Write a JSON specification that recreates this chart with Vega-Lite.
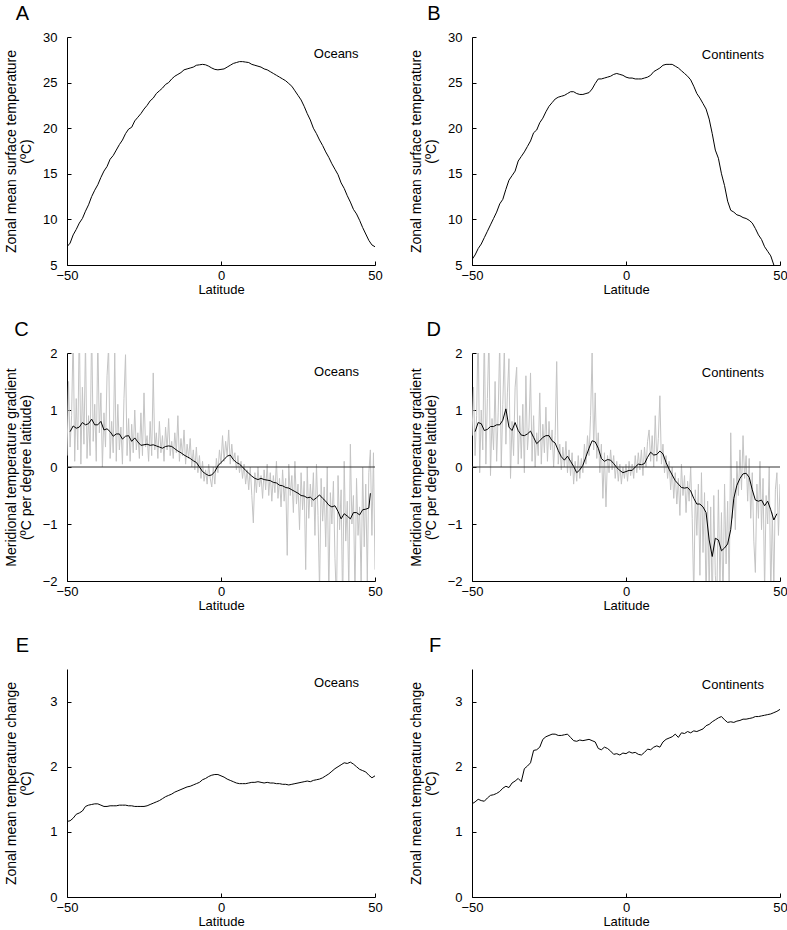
{
"$schema": "https://vega.github.io/schema/vega-lite/v6.json",
"padding": {"left": 3, "top": 4, "right": 5, "bottom": 5},
"background": "white",
"config": {
 "font": "Liberation Sans",
 "view": {"stroke": null},
 "axis": {"labelFont": "Liberation Sans", "titleFont": "Liberation Sans", "labelFontSize": 13, "titleFontSize": 13, "titleFontWeight": "normal", "domainColor": "black", "tickColor": "black", "labelColor": "black", "titleColor": "black", "grid": false, "labelFlush": false, "labelOverlap": false, "tickSize": -4},
 "axisX": {"labelPadding": 8, "titlePadding": 1},
 "axisY": {"labelPadding": 14, "titleX": -63, "titleY": 114, "titleBaseline": "top", "titleAngle": -90, "titleAlign": "center", "titleFontSize": 14, "titleLineHeight": 15},
 "text": {"font": "Liberation Sans", "fontSize": 13, "color": "black", "align": "center", "baseline": "alphabetic"}
},
"datasets": {
"A": [{"lat":-50,"v":7.0},{"lat":-49,"v":7.4},{"lat":-48,"v":8.3},{"lat":-47,"v":8.9},{"lat":-46,"v":9.6},{"lat":-45,"v":10.1},{"lat":-44,"v":10.9},{"lat":-43,"v":11.6},{"lat":-42,"v":12.5},{"lat":-41,"v":13.2},{"lat":-40,"v":13.8},{"lat":-39,"v":14.6},{"lat":-38,"v":15.3},{"lat":-37,"v":15.8},{"lat":-36,"v":16.6},{"lat":-35,"v":17.0},{"lat":-34,"v":17.6},{"lat":-33,"v":18.2},{"lat":-32,"v":18.7},{"lat":-31,"v":19.4},{"lat":-30,"v":19.9},{"lat":-29,"v":20.1},{"lat":-28,"v":20.8},{"lat":-27,"v":21.2},{"lat":-26,"v":21.6},{"lat":-25,"v":22.1},{"lat":-24,"v":22.5},{"lat":-23,"v":23.0},{"lat":-22,"v":23.3},{"lat":-21,"v":23.8},{"lat":-20,"v":24.1},{"lat":-19,"v":24.4},{"lat":-18,"v":24.8},{"lat":-17,"v":25.0},{"lat":-16,"v":25.4},{"lat":-15,"v":25.7},{"lat":-14,"v":25.9},{"lat":-13,"v":26.1},{"lat":-12,"v":26.4},{"lat":-11,"v":26.5},{"lat":-10,"v":26.6},{"lat":-9,"v":26.7},{"lat":-8,"v":26.9},{"lat":-7,"v":26.95},{"lat":-6,"v":27.0},{"lat":-5,"v":26.95},{"lat":-4,"v":26.8},{"lat":-3,"v":26.6},{"lat":-2,"v":26.45},{"lat":-1,"v":26.4},{"lat":0,"v":26.45},{"lat":1,"v":26.5},{"lat":2,"v":26.7},{"lat":3,"v":26.9},{"lat":4,"v":27.1},{"lat":5,"v":27.2},{"lat":6,"v":27.3},{"lat":7,"v":27.3},{"lat":8,"v":27.25},{"lat":9,"v":27.2},{"lat":10,"v":27.0},{"lat":11,"v":26.9},{"lat":12,"v":26.8},{"lat":13,"v":26.7},{"lat":14,"v":26.5},{"lat":15,"v":26.4},{"lat":16,"v":26.2},{"lat":17,"v":26.0},{"lat":18,"v":25.8},{"lat":19,"v":25.6},{"lat":20,"v":25.4},{"lat":21,"v":25.2},{"lat":22,"v":24.9},{"lat":23,"v":24.6},{"lat":24,"v":24.1},{"lat":25,"v":23.6},{"lat":26,"v":23.1},{"lat":27,"v":22.4},{"lat":28,"v":21.6},{"lat":29,"v":20.9},{"lat":30,"v":20.0},{"lat":31,"v":19.4},{"lat":32,"v":18.7},{"lat":33,"v":18.1},{"lat":34,"v":17.4},{"lat":35,"v":16.8},{"lat":36,"v":16.1},{"lat":37,"v":15.5},{"lat":38,"v":14.9},{"lat":39,"v":14.0},{"lat":40,"v":13.4},{"lat":41,"v":12.6},{"lat":42,"v":11.9},{"lat":43,"v":11.1},{"lat":44,"v":10.6},{"lat":45,"v":9.9},{"lat":46,"v":9.1},{"lat":47,"v":8.4},{"lat":48,"v":7.7},{"lat":49,"v":7.2},{"lat":50,"v":7.0}],
"B": [{"lat":-50,"v":5.6},{"lat":-49,"v":6.1},{"lat":-48,"v":6.8},{"lat":-47,"v":7.3},{"lat":-46,"v":8.0},{"lat":-45,"v":8.7},{"lat":-44,"v":9.4},{"lat":-43,"v":10.1},{"lat":-42,"v":10.8},{"lat":-41,"v":11.7},{"lat":-40,"v":12.2},{"lat":-39,"v":13.3},{"lat":-38,"v":14.3},{"lat":-37,"v":14.8},{"lat":-36,"v":15.3},{"lat":-35,"v":16.4},{"lat":-34,"v":16.9},{"lat":-33,"v":17.4},{"lat":-32,"v":18.0},{"lat":-31,"v":18.6},{"lat":-30,"v":19.5},{"lat":-29,"v":19.8},{"lat":-28,"v":20.6},{"lat":-27,"v":21.1},{"lat":-26,"v":21.8},{"lat":-25,"v":22.4},{"lat":-24,"v":22.8},{"lat":-23,"v":23.2},{"lat":-22,"v":23.4},{"lat":-21,"v":23.5},{"lat":-20,"v":23.6},{"lat":-19,"v":23.8},{"lat":-18,"v":24.0},{"lat":-17,"v":24.0},{"lat":-16,"v":23.8},{"lat":-15,"v":23.7},{"lat":-14,"v":23.7},{"lat":-13,"v":23.8},{"lat":-12,"v":23.9},{"lat":-11,"v":24.3},{"lat":-10,"v":24.9},{"lat":-9,"v":25.4},{"lat":-8,"v":25.4},{"lat":-7,"v":25.5},{"lat":-6,"v":25.6},{"lat":-5,"v":25.7},{"lat":-4,"v":25.9},{"lat":-3,"v":26.0},{"lat":-2,"v":25.9},{"lat":-1,"v":25.8},{"lat":0,"v":25.6},{"lat":1,"v":25.5},{"lat":2,"v":25.5},{"lat":3,"v":25.4},{"lat":4,"v":25.4},{"lat":5,"v":25.4},{"lat":6,"v":25.5},{"lat":7,"v":25.6},{"lat":8,"v":25.8},{"lat":9,"v":26.2},{"lat":10,"v":26.4},{"lat":11,"v":26.6},{"lat":12,"v":26.9},{"lat":13,"v":27.0},{"lat":14,"v":27.0},{"lat":15,"v":27.0},{"lat":16,"v":26.8},{"lat":17,"v":26.6},{"lat":18,"v":26.3},{"lat":19,"v":26.0},{"lat":20,"v":25.7},{"lat":21,"v":25.3},{"lat":22,"v":24.6},{"lat":23,"v":23.8},{"lat":24,"v":23.3},{"lat":25,"v":22.7},{"lat":26,"v":22.1},{"lat":27,"v":21.0},{"lat":28,"v":19.4},{"lat":29,"v":17.6},{"lat":30,"v":16.7},{"lat":31,"v":15.0},{"lat":32,"v":13.7},{"lat":33,"v":12.0},{"lat":34,"v":11.0},{"lat":35,"v":10.8},{"lat":36,"v":10.5},{"lat":37,"v":10.4},{"lat":38,"v":10.2},{"lat":39,"v":10.1},{"lat":40,"v":9.9},{"lat":41,"v":9.6},{"lat":42,"v":9.0},{"lat":43,"v":8.3},{"lat":44,"v":7.8},{"lat":45,"v":7.0},{"lat":46,"v":6.5},{"lat":47,"v":6.0},{"lat":48,"v":5.0}],
"C": [{"lat":-49,"v":0.62},{"lat":-48,"v":0.72},{"lat":-47,"v":0.68},{"lat":-46,"v":0.70},{"lat":-45,"v":0.78},{"lat":-44,"v":0.74},{"lat":-43,"v":0.76},{"lat":-42,"v":0.84},{"lat":-41,"v":0.74},{"lat":-40,"v":0.74},{"lat":-39,"v":0.80},{"lat":-38,"v":0.65},{"lat":-37,"v":0.67},{"lat":-36,"v":0.62},{"lat":-35,"v":0.54},{"lat":-34,"v":0.58},{"lat":-33,"v":0.58},{"lat":-32,"v":0.49},{"lat":-31,"v":0.54},{"lat":-30,"v":0.55},{"lat":-29,"v":0.45},{"lat":-28,"v":0.51},{"lat":-27,"v":0.44},{"lat":-26,"v":0.38},{"lat":-25,"v":0.39},{"lat":-24,"v":0.40},{"lat":-23,"v":0.38},{"lat":-22,"v":0.39},{"lat":-21,"v":0.37},{"lat":-20,"v":0.35},{"lat":-19,"v":0.33},{"lat":-18,"v":0.36},{"lat":-17,"v":0.37},{"lat":-16,"v":0.36},{"lat":-15,"v":0.32},{"lat":-14,"v":0.28},{"lat":-13,"v":0.25},{"lat":-12,"v":0.21},{"lat":-11,"v":0.18},{"lat":-10,"v":0.15},{"lat":-9,"v":0.11},{"lat":-8,"v":0.08},{"lat":-7,"v":0.00},{"lat":-6,"v":-0.08},{"lat":-5,"v":-0.12},{"lat":-4,"v":-0.15},{"lat":-3,"v":-0.14},{"lat":-2,"v":-0.08},{"lat":-1,"v":0.02},{"lat":0,"v":0.08},{"lat":1,"v":0.13},{"lat":2,"v":0.19},{"lat":3,"v":0.21},{"lat":4,"v":0.13},{"lat":5,"v":0.08},{"lat":6,"v":0.05},{"lat":7,"v":0.00},{"lat":8,"v":-0.06},{"lat":9,"v":-0.11},{"lat":10,"v":-0.16},{"lat":11,"v":-0.20},{"lat":12,"v":-0.22},{"lat":13,"v":-0.20},{"lat":14,"v":-0.22},{"lat":15,"v":-0.23},{"lat":16,"v":-0.24},{"lat":17,"v":-0.27},{"lat":18,"v":-0.28},{"lat":19,"v":-0.32},{"lat":20,"v":-0.33},{"lat":21,"v":-0.36},{"lat":22,"v":-0.37},{"lat":23,"v":-0.40},{"lat":24,"v":-0.43},{"lat":25,"v":-0.46},{"lat":26,"v":-0.50},{"lat":27,"v":-0.51},{"lat":28,"v":-0.54},{"lat":29,"v":-0.53},{"lat":30,"v":-0.58},{"lat":31,"v":-0.54},{"lat":32,"v":-0.49},{"lat":33,"v":-0.55},{"lat":34,"v":-0.60},{"lat":35,"v":-0.67},{"lat":36,"v":-0.70},{"lat":37,"v":-0.68},{"lat":38,"v":-0.78},{"lat":39,"v":-0.91},{"lat":40,"v":-0.82},{"lat":41,"v":-0.86},{"lat":42,"v":-0.91},{"lat":43,"v":-0.80},{"lat":44,"v":-0.80},{"lat":45,"v":-0.84},{"lat":46,"v":-0.75},{"lat":47,"v":-0.74},{"lat":48,"v":-0.72},{"lat":48.5,"v":-0.46}],
"Cg": [{"lat":-50,"v":0.20},{"lat":-49.5,"v":1.50},{"lat":-49,"v":0.35},{"lat":-48.5,"v":0.90},{"lat":-48,"v":2.40},{"lat":-47.5,"v":0.10},{"lat":-47,"v":1.20},{"lat":-46.5,"v":0.30},{"lat":-46,"v":2.60},{"lat":-45.5,"v":0.05},{"lat":-45,"v":1.40},{"lat":-44.5,"v":0.40},{"lat":-44,"v":2.20},{"lat":-43.5,"v":0.15},{"lat":-43,"v":0.90},{"lat":-42.5,"v":0.20},{"lat":-42,"v":2.50},{"lat":-41.5,"v":0.45},{"lat":-41,"v":1.10},{"lat":-40.5,"v":0.10},{"lat":-40,"v":2.30},{"lat":-39.5,"v":0.60},{"lat":-39,"v":1.30},{"lat":-38.5,"v":0.00},{"lat":-38,"v":0.95},{"lat":-37.5,"v":0.35},{"lat":-37,"v":1.60},{"lat":-36.5,"v":2.10},{"lat":-36,"v":0.15},{"lat":-35.5,"v":0.80},{"lat":-35,"v":0.25},{"lat":-34.5,"v":2.00},{"lat":-34,"v":0.10},{"lat":-33.5,"v":1.10},{"lat":-33,"v":0.30},{"lat":-32.5,"v":0.70},{"lat":-32,"v":0.05},{"lat":-31.5,"v":1.20},{"lat":-31,"v":1.97},{"lat":-30.5,"v":0.20},{"lat":-30,"v":0.85},{"lat":-29.5,"v":0.10},{"lat":-29,"v":0.75},{"lat":-28.5,"v":0.25},{"lat":-28,"v":1.00},{"lat":-27.5,"v":0.30},{"lat":-27,"v":0.60},{"lat":-26.5,"v":0.15},{"lat":-26,"v":0.95},{"lat":-25.5,"v":0.20},{"lat":-25,"v":1.30},{"lat":-24.5,"v":0.35},{"lat":-24,"v":0.55},{"lat":-23.5,"v":0.10},{"lat":-23,"v":0.80},{"lat":-22.5,"v":0.20},{"lat":-22,"v":1.65},{"lat":-21.5,"v":0.30},{"lat":-21,"v":0.60},{"lat":-20.5,"v":0.15},{"lat":-20,"v":0.80},{"lat":-19.5,"v":0.25},{"lat":-19,"v":0.55},{"lat":-18.5,"v":0.10},{"lat":-18,"v":0.70},{"lat":-17.5,"v":0.30},{"lat":-17,"v":0.85},{"lat":-16.5,"v":0.20},{"lat":-16,"v":0.45},{"lat":-15.5,"v":0.15},{"lat":-15,"v":0.60},{"lat":-14.5,"v":0.25},{"lat":-14,"v":0.90},{"lat":-13.5,"v":0.10},{"lat":-13,"v":0.50},{"lat":-12.5,"v":0.20},{"lat":-12,"v":0.65},{"lat":-11.5,"v":0.05},{"lat":-11,"v":0.40},{"lat":-10.5,"v":0.15},{"lat":-10,"v":0.50},{"lat":-9.5,"v":0.00},{"lat":-9,"v":0.30},{"lat":-8.5,"v":-0.05},{"lat":-8,"v":0.35},{"lat":-7.5,"v":-0.10},{"lat":-7,"v":0.20},{"lat":-6.5,"v":-0.20},{"lat":-6,"v":0.10},{"lat":-5.5,"v":-0.25},{"lat":-5,"v":-0.05},{"lat":-4.5,"v":-0.30},{"lat":-4,"v":0.05},{"lat":-3.5,"v":-0.20},{"lat":-3,"v":-0.35},{"lat":-2.5,"v":0.00},{"lat":-2,"v":-0.30},{"lat":-1.5,"v":0.15},{"lat":-1,"v":-0.10},{"lat":-0.5,"v":0.30},{"lat":0,"v":0.05},{"lat":0.5,"v":0.55},{"lat":1,"v":0.10},{"lat":1.5,"v":0.45},{"lat":2,"v":0.20},{"lat":2.5,"v":0.65},{"lat":3,"v":0.05},{"lat":3.5,"v":0.40},{"lat":4,"v":0.10},{"lat":4.5,"v":0.25},{"lat":5,"v":-0.05},{"lat":5.5,"v":0.20},{"lat":6,"v":-0.10},{"lat":6.5,"v":0.10},{"lat":7,"v":-0.20},{"lat":7.5,"v":0.05},{"lat":8,"v":-0.30},{"lat":8.5,"v":-0.05},{"lat":9,"v":-0.40},{"lat":9.5,"v":0.00},{"lat":10,"v":-0.50},{"lat":10.5,"v":-0.98},{"lat":11,"v":-0.10},{"lat":11.5,"v":-0.45},{"lat":12,"v":0.00},{"lat":12.5,"v":-0.35},{"lat":13,"v":-0.15},{"lat":13.5,"v":-0.55},{"lat":14,"v":-0.05},{"lat":14.5,"v":-0.40},{"lat":15,"v":0.05},{"lat":15.5,"v":-0.50},{"lat":16,"v":-0.10},{"lat":16.5,"v":-0.60},{"lat":17,"v":-0.15},{"lat":17.5,"v":-0.45},{"lat":18,"v":0.10},{"lat":18.5,"v":-0.55},{"lat":19,"v":-0.20},{"lat":19.5,"v":-0.70},{"lat":20,"v":-0.05},{"lat":20.5,"v":-0.60},{"lat":21,"v":-0.20},{"lat":21.5,"v":-1.55},{"lat":22,"v":0.05},{"lat":22.5,"v":-0.50},{"lat":23,"v":-0.15},{"lat":23.5,"v":-0.80},{"lat":24,"v":0.10},{"lat":24.5,"v":-0.65},{"lat":25,"v":-0.30},{"lat":25.5,"v":-1.10},{"lat":26,"v":-0.10},{"lat":26.5,"v":-0.75},{"lat":27,"v":-0.25},{"lat":27.5,"v":-1.80},{"lat":28,"v":0.00},{"lat":28.5,"v":-0.90},{"lat":29,"v":-0.30},{"lat":29.5,"v":-0.70},{"lat":30,"v":-0.10},{"lat":30.5,"v":-1.20},{"lat":31,"v":0.05},{"lat":31.5,"v":-0.85},{"lat":32,"v":-2.20},{"lat":32.5,"v":-0.20},{"lat":33,"v":-0.95},{"lat":33.5,"v":-0.35},{"lat":34,"v":-1.40},{"lat":34.5,"v":0.00},{"lat":35,"v":-2.30},{"lat":35.5,"v":-0.45},{"lat":36,"v":-1.00},{"lat":36.5,"v":-0.25},{"lat":37,"v":-1.60},{"lat":37.5,"v":-2.40},{"lat":38,"v":-0.15},{"lat":38.5,"v":-1.10},{"lat":39,"v":-0.40},{"lat":39.5,"v":-2.50},{"lat":40,"v":0.10},{"lat":40.5,"v":-1.30},{"lat":41,"v":-0.60},{"lat":41.5,"v":-2.20},{"lat":42,"v":0.40},{"lat":42.5,"v":-1.00},{"lat":43,"v":-0.50},{"lat":43.5,"v":-2.30},{"lat":44,"v":-0.20},{"lat":44.5,"v":-1.20},{"lat":45,"v":-0.70},{"lat":45.5,"v":-2.10},{"lat":46,"v":0.00},{"lat":46.5,"v":-1.40},{"lat":47,"v":-0.30},{"lat":47.5,"v":-2.00},{"lat":48,"v":-0.10},{"lat":48.5,"v":0.30},{"lat":49,"v":-1.20},{"lat":49.5,"v":0.25},{"lat":50,"v":-1.80}],
"D": [{"lat":-49,"v":0.62},{"lat":-48,"v":0.78},{"lat":-47,"v":0.76},{"lat":-46,"v":0.64},{"lat":-45,"v":0.66},{"lat":-44,"v":0.71},{"lat":-43,"v":0.71},{"lat":-42,"v":0.74},{"lat":-41,"v":0.74},{"lat":-40,"v":0.82},{"lat":-39,"v":1.02},{"lat":-38,"v":0.70},{"lat":-37,"v":0.64},{"lat":-36,"v":0.78},{"lat":-35,"v":0.64},{"lat":-34,"v":0.56},{"lat":-33,"v":0.55},{"lat":-32,"v":0.58},{"lat":-31,"v":0.63},{"lat":-30,"v":0.52},{"lat":-29,"v":0.41},{"lat":-28,"v":0.46},{"lat":-27,"v":0.52},{"lat":-26,"v":0.55},{"lat":-25,"v":0.55},{"lat":-24,"v":0.46},{"lat":-23,"v":0.42},{"lat":-22,"v":0.29},{"lat":-21,"v":0.18},{"lat":-20,"v":0.12},{"lat":-19,"v":0.19},{"lat":-18,"v":0.10},{"lat":-17,"v":0.01},{"lat":-16,"v":-0.10},{"lat":-15,"v":-0.05},{"lat":-14,"v":0.03},{"lat":-13,"v":0.18},{"lat":-12,"v":0.33},{"lat":-11,"v":0.46},{"lat":-10,"v":0.44},{"lat":-9,"v":0.33},{"lat":-8,"v":0.15},{"lat":-7,"v":0.10},{"lat":-6,"v":0.13},{"lat":-5,"v":0.12},{"lat":-4,"v":0.06},{"lat":-3,"v":-0.01},{"lat":-2,"v":-0.06},{"lat":-1,"v":-0.10},{"lat":0,"v":-0.08},{"lat":1,"v":-0.06},{"lat":2,"v":-0.06},{"lat":3,"v":0.00},{"lat":4,"v":0.05},{"lat":5,"v":0.04},{"lat":6,"v":0.06},{"lat":7,"v":0.17},{"lat":8,"v":0.26},{"lat":9,"v":0.21},{"lat":10,"v":0.22},{"lat":11,"v":0.28},{"lat":12,"v":0.23},{"lat":13,"v":0.08},{"lat":14,"v":-0.04},{"lat":15,"v":-0.14},{"lat":16,"v":-0.24},{"lat":17,"v":-0.30},{"lat":18,"v":-0.36},{"lat":19,"v":-0.37},{"lat":20,"v":-0.36},{"lat":21,"v":-0.42},{"lat":22,"v":-0.55},{"lat":23,"v":-0.65},{"lat":24,"v":-0.65},{"lat":25,"v":-0.70},{"lat":26,"v":-0.80},{"lat":27,"v":-1.28},{"lat":28,"v":-1.57},{"lat":29,"v":-1.25},{"lat":30,"v":-1.28},{"lat":31,"v":-1.47},{"lat":32,"v":-1.42},{"lat":33,"v":-1.35},{"lat":34,"v":-1.10},{"lat":35,"v":-0.55},{"lat":36,"v":-0.32},{"lat":37,"v":-0.20},{"lat":38,"v":-0.12},{"lat":39,"v":-0.11},{"lat":40,"v":-0.18},{"lat":41,"v":-0.40},{"lat":42,"v":-0.58},{"lat":43,"v":-0.60},{"lat":44,"v":-0.58},{"lat":45,"v":-0.68},{"lat":46,"v":-0.60},{"lat":47,"v":-0.75},{"lat":48,"v":-0.93},{"lat":49,"v":-0.82}],
"Dg": [{"lat":-50,"v":0.55},{"lat":-49.5,"v":1.40},{"lat":-49,"v":0.20},{"lat":-48.5,"v":0.90},{"lat":-48,"v":2.50},{"lat":-47.5,"v":-0.10},{"lat":-47,"v":1.00},{"lat":-46.5,"v":0.30},{"lat":-46,"v":2.40},{"lat":-45.5,"v":0.05},{"lat":-45,"v":1.20},{"lat":-44.5,"v":2.30},{"lat":-44,"v":-0.15},{"lat":-43.5,"v":0.85},{"lat":-43,"v":0.30},{"lat":-42.5,"v":1.50},{"lat":-42,"v":0.10},{"lat":-41.5,"v":0.95},{"lat":-41,"v":2.20},{"lat":-40.5,"v":0.00},{"lat":-40,"v":1.10},{"lat":-39.5,"v":2.10},{"lat":-39,"v":0.40},{"lat":-38.5,"v":1.30},{"lat":-38,"v":1.90},{"lat":-37.5,"v":-0.20},{"lat":-37,"v":0.80},{"lat":-36.5,"v":0.20},{"lat":-36,"v":1.40},{"lat":-35.5,"v":1.75},{"lat":-35,"v":0.05},{"lat":-34.5,"v":0.90},{"lat":-34,"v":0.15},{"lat":-33.5,"v":1.10},{"lat":-33,"v":-0.10},{"lat":-32.5,"v":1.60},{"lat":-32,"v":0.30},{"lat":-31.5,"v":0.70},{"lat":-31,"v":1.65},{"lat":-30.5,"v":0.10},{"lat":-30,"v":0.90},{"lat":-29.5,"v":0.00},{"lat":-29,"v":0.60},{"lat":-28.5,"v":0.20},{"lat":-28,"v":1.30},{"lat":-27.5,"v":0.05},{"lat":-27,"v":0.75},{"lat":-26.5,"v":0.25},{"lat":-26,"v":1.05},{"lat":-25.5,"v":0.10},{"lat":-25,"v":0.80},{"lat":-24.5,"v":0.30},{"lat":-24,"v":0.65},{"lat":-23.5,"v":0.00},{"lat":-23,"v":0.55},{"lat":-22.5,"v":1.85},{"lat":-22,"v":0.05},{"lat":-21.5,"v":0.40},{"lat":-21,"v":-0.05},{"lat":-20.5,"v":0.35},{"lat":-20,"v":0.00},{"lat":-19.5,"v":0.45},{"lat":-19,"v":-0.10},{"lat":-18.5,"v":0.30},{"lat":-18,"v":-0.15},{"lat":-17.5,"v":0.25},{"lat":-17,"v":-0.30},{"lat":-16.5,"v":0.10},{"lat":-16,"v":-0.25},{"lat":-15.5,"v":0.20},{"lat":-15,"v":-0.20},{"lat":-14.5,"v":0.15},{"lat":-14,"v":-0.10},{"lat":-13.5,"v":0.40},{"lat":-13,"v":0.05},{"lat":-12.5,"v":0.55},{"lat":-12,"v":0.20},{"lat":-11.5,"v":0.90},{"lat":-11,"v":2.00},{"lat":-10.5,"v":0.30},{"lat":-10,"v":1.30},{"lat":-9.5,"v":0.15},{"lat":-9,"v":0.60},{"lat":-8.5,"v":-0.10},{"lat":-8,"v":0.40},{"lat":-7.5,"v":-0.55},{"lat":-7,"v":0.25},{"lat":-6.5,"v":-0.70},{"lat":-6,"v":0.20},{"lat":-5.5,"v":-0.10},{"lat":-5,"v":0.30},{"lat":-4.5,"v":-0.05},{"lat":-4,"v":0.20},{"lat":-3.5,"v":-0.20},{"lat":-3,"v":0.10},{"lat":-2.5,"v":-0.25},{"lat":-2,"v":0.05},{"lat":-1.5,"v":-0.30},{"lat":-1,"v":0.00},{"lat":-0.5,"v":-0.20},{"lat":0,"v":0.05},{"lat":0.5,"v":-0.25},{"lat":1,"v":0.10},{"lat":1.5,"v":-0.15},{"lat":2,"v":0.05},{"lat":2.5,"v":-0.20},{"lat":3,"v":0.20},{"lat":3.5,"v":-0.10},{"lat":4,"v":0.25},{"lat":4.5,"v":-0.05},{"lat":5,"v":0.30},{"lat":5.5,"v":-0.15},{"lat":6,"v":0.35},{"lat":6.5,"v":0.00},{"lat":7,"v":0.45},{"lat":7.5,"v":0.65},{"lat":8,"v":0.10},{"lat":8.5,"v":0.55},{"lat":9,"v":0.00},{"lat":9.5,"v":0.90},{"lat":10,"v":0.10},{"lat":10.5,"v":0.50},{"lat":11,"v":1.25},{"lat":11.5,"v":0.05},{"lat":12,"v":0.40},{"lat":12.5,"v":-0.10},{"lat":13,"v":0.20},{"lat":13.5,"v":-0.20},{"lat":14,"v":0.10},{"lat":14.5,"v":-0.40},{"lat":15,"v":0.00},{"lat":15.5,"v":-0.55},{"lat":16,"v":-0.10},{"lat":16.5,"v":-0.65},{"lat":17,"v":-0.20},{"lat":17.5,"v":-0.85},{"lat":18,"v":0.05},{"lat":18.5,"v":-0.50},{"lat":19,"v":-0.15},{"lat":19.5,"v":-0.80},{"lat":20,"v":-0.25},{"lat":20.5,"v":-0.60},{"lat":21,"v":0.00},{"lat":21.5,"v":-0.90},{"lat":22,"v":-2.30},{"lat":22.5,"v":-0.40},{"lat":23,"v":-1.20},{"lat":23.5,"v":-0.30},{"lat":24,"v":-1.90},{"lat":24.5,"v":-0.10},{"lat":25,"v":-1.50},{"lat":25.5,"v":-0.45},{"lat":26,"v":-2.40},{"lat":26.5,"v":-0.60},{"lat":27,"v":-2.20},{"lat":27.5,"v":-0.70},{"lat":28,"v":-2.50},{"lat":28.5,"v":-0.50},{"lat":29,"v":-1.90},{"lat":29.5,"v":-2.30},{"lat":30,"v":-0.40},{"lat":30.5,"v":-2.10},{"lat":31,"v":-0.80},{"lat":31.5,"v":-2.40},{"lat":32,"v":-0.30},{"lat":32.5,"v":-1.70},{"lat":33,"v":-0.60},{"lat":33.5,"v":-2.20},{"lat":34,"v":0.60},{"lat":34.5,"v":-0.90},{"lat":35,"v":-0.20},{"lat":35.5,"v":-1.10},{"lat":36,"v":0.10},{"lat":36.5,"v":-0.50},{"lat":37,"v":0.30},{"lat":37.5,"v":-0.40},{"lat":38,"v":0.55},{"lat":38.5,"v":-0.20},{"lat":39,"v":0.20},{"lat":39.5,"v":-0.60},{"lat":40,"v":0.15},{"lat":40.5,"v":-0.90},{"lat":41,"v":-0.10},{"lat":41.5,"v":-1.30},{"lat":42,"v":-1.85},{"lat":42.5,"v":-0.30},{"lat":43,"v":-0.90},{"lat":43.5,"v":0.10},{"lat":44,"v":-1.10},{"lat":44.5,"v":-0.20},{"lat":45,"v":-2.20},{"lat":45.5,"v":-0.50},{"lat":46,"v":-1.00},{"lat":46.5,"v":0.00},{"lat":47,"v":-2.30},{"lat":47.5,"v":-0.80},{"lat":48,"v":-2.10},{"lat":48.5,"v":-0.40},{"lat":49,"v":-0.10},{"lat":49.5,"v":-1.20},{"lat":50,"v":-0.30}],
"E": [{"lat":-50,"v":1.16},{"lat":-49,"v":1.17},{"lat":-48,"v":1.21},{"lat":-47,"v":1.27},{"lat":-46,"v":1.29},{"lat":-45,"v":1.32},{"lat":-44,"v":1.39},{"lat":-43,"v":1.41},{"lat":-42,"v":1.42},{"lat":-41,"v":1.43},{"lat":-40,"v":1.43},{"lat":-39,"v":1.41},{"lat":-38,"v":1.39},{"lat":-37,"v":1.39},{"lat":-36,"v":1.40},{"lat":-35,"v":1.40},{"lat":-34,"v":1.40},{"lat":-33,"v":1.41},{"lat":-32,"v":1.41},{"lat":-31,"v":1.41},{"lat":-30,"v":1.40},{"lat":-29,"v":1.40},{"lat":-28,"v":1.39},{"lat":-27,"v":1.39},{"lat":-26,"v":1.39},{"lat":-25,"v":1.39},{"lat":-24,"v":1.40},{"lat":-23,"v":1.42},{"lat":-22,"v":1.44},{"lat":-21,"v":1.46},{"lat":-20,"v":1.48},{"lat":-19,"v":1.51},{"lat":-18,"v":1.54},{"lat":-17,"v":1.56},{"lat":-16,"v":1.58},{"lat":-15,"v":1.61},{"lat":-14,"v":1.63},{"lat":-13,"v":1.65},{"lat":-12,"v":1.67},{"lat":-11,"v":1.69},{"lat":-10,"v":1.70},{"lat":-9,"v":1.72},{"lat":-8,"v":1.74},{"lat":-7,"v":1.76},{"lat":-6,"v":1.80},{"lat":-5,"v":1.82},{"lat":-4,"v":1.85},{"lat":-3,"v":1.87},{"lat":-2,"v":1.88},{"lat":-1,"v":1.88},{"lat":0,"v":1.86},{"lat":1,"v":1.84},{"lat":2,"v":1.81},{"lat":3,"v":1.79},{"lat":4,"v":1.77},{"lat":5,"v":1.75},{"lat":6,"v":1.74},{"lat":7,"v":1.74},{"lat":8,"v":1.74},{"lat":9,"v":1.75},{"lat":10,"v":1.76},{"lat":11,"v":1.76},{"lat":12,"v":1.77},{"lat":13,"v":1.76},{"lat":14,"v":1.75},{"lat":15,"v":1.76},{"lat":16,"v":1.75},{"lat":17,"v":1.75},{"lat":18,"v":1.74},{"lat":19,"v":1.74},{"lat":20,"v":1.73},{"lat":21,"v":1.73},{"lat":22,"v":1.72},{"lat":23,"v":1.73},{"lat":24,"v":1.74},{"lat":25,"v":1.75},{"lat":26,"v":1.76},{"lat":27,"v":1.77},{"lat":28,"v":1.78},{"lat":29,"v":1.77},{"lat":30,"v":1.79},{"lat":31,"v":1.80},{"lat":32,"v":1.81},{"lat":33,"v":1.83},{"lat":34,"v":1.86},{"lat":35,"v":1.89},{"lat":36,"v":1.93},{"lat":37,"v":1.97},{"lat":38,"v":2.00},{"lat":39,"v":2.03},{"lat":40,"v":2.06},{"lat":41,"v":2.05},{"lat":42,"v":2.07},{"lat":43,"v":2.04},{"lat":44,"v":2.00},{"lat":45,"v":1.96},{"lat":46,"v":1.94},{"lat":47,"v":1.92},{"lat":48,"v":1.87},{"lat":49,"v":1.83},{"lat":50,"v":1.86}],
"F": [{"lat":-50,"v":1.43},{"lat":-49,"v":1.46},{"lat":-48,"v":1.50},{"lat":-47,"v":1.48},{"lat":-46,"v":1.47},{"lat":-45,"v":1.52},{"lat":-44,"v":1.56},{"lat":-43,"v":1.57},{"lat":-42,"v":1.59},{"lat":-41,"v":1.62},{"lat":-40,"v":1.67},{"lat":-39,"v":1.70},{"lat":-38,"v":1.68},{"lat":-37,"v":1.75},{"lat":-36,"v":1.78},{"lat":-35,"v":1.82},{"lat":-34,"v":1.77},{"lat":-33,"v":1.97},{"lat":-32,"v":2.01},{"lat":-31,"v":2.06},{"lat":-30,"v":2.25},{"lat":-29,"v":2.26},{"lat":-28,"v":2.30},{"lat":-27,"v":2.42},{"lat":-26,"v":2.46},{"lat":-25,"v":2.48},{"lat":-24,"v":2.50},{"lat":-23,"v":2.50},{"lat":-22,"v":2.48},{"lat":-21,"v":2.48},{"lat":-20,"v":2.49},{"lat":-19,"v":2.50},{"lat":-18,"v":2.45},{"lat":-17,"v":2.40},{"lat":-16,"v":2.39},{"lat":-15,"v":2.41},{"lat":-14,"v":2.40},{"lat":-13,"v":2.41},{"lat":-12,"v":2.42},{"lat":-11,"v":2.40},{"lat":-10,"v":2.38},{"lat":-9,"v":2.28},{"lat":-8,"v":2.26},{"lat":-7,"v":2.30},{"lat":-6,"v":2.28},{"lat":-5,"v":2.24},{"lat":-4,"v":2.19},{"lat":-3,"v":2.20},{"lat":-2,"v":2.18},{"lat":-1,"v":2.21},{"lat":0,"v":2.20},{"lat":1,"v":2.23},{"lat":2,"v":2.21},{"lat":3,"v":2.22},{"lat":4,"v":2.19},{"lat":5,"v":2.18},{"lat":6,"v":2.22},{"lat":7,"v":2.27},{"lat":8,"v":2.26},{"lat":9,"v":2.30},{"lat":10,"v":2.32},{"lat":11,"v":2.30},{"lat":12,"v":2.38},{"lat":13,"v":2.42},{"lat":14,"v":2.44},{"lat":15,"v":2.46},{"lat":16,"v":2.50},{"lat":17,"v":2.45},{"lat":18,"v":2.52},{"lat":19,"v":2.51},{"lat":20,"v":2.54},{"lat":21,"v":2.52},{"lat":22,"v":2.55},{"lat":23,"v":2.54},{"lat":24,"v":2.56},{"lat":25,"v":2.58},{"lat":26,"v":2.63},{"lat":27,"v":2.65},{"lat":28,"v":2.69},{"lat":29,"v":2.72},{"lat":30,"v":2.75},{"lat":31,"v":2.77},{"lat":32,"v":2.72},{"lat":33,"v":2.68},{"lat":34,"v":2.69},{"lat":35,"v":2.68},{"lat":36,"v":2.70},{"lat":37,"v":2.71},{"lat":38,"v":2.73},{"lat":39,"v":2.73},{"lat":40,"v":2.74},{"lat":41,"v":2.75},{"lat":42,"v":2.77},{"lat":43,"v":2.77},{"lat":44,"v":2.78},{"lat":45,"v":2.79},{"lat":46,"v":2.80},{"lat":47,"v":2.81},{"lat":48,"v":2.83},{"lat":49,"v":2.85},{"lat":50,"v":2.88}]
},
"columns": 2,
"spacing": {"row": 88, "column": 97},
"bounds": "flush",
"concat": [
 {"width": 308, "height": 228,
  "layer": [
   {"data": {"name": "A"}, "mark": {"type": "line", "color": "black", "strokeWidth": 1, "clip": true},
    "encoding": {
     "x": {"field": "lat", "type": "quantitative", "scale": {"domain": [-50, 50], "nice": false}, "axis": {"title": "Latitude", "values": [-50, 0, 50]}},
     "y": {"field": "v", "type": "quantitative", "scale": {"domain": [5, 30], "nice": false}, "axis": {"title": ["Zonal mean surface temperature", "(ºC)"], "values": [5, 10, 15, 20, 25, 30]}}}},
   {"data": {"values": [{"t": "Oceans"}]}, "mark": {"type": "text", "align": "center"},
    "encoding": {"x": {"datum": 37.4, "type": "quantitative"}, "y": {"datum": 27.7, "type": "quantitative"}, "text": {"field": "t"}}},
   {"data": {"values": [{"t": "A"}]}, "mark": {"type": "text", "fontSize": 20, "align": "center"},
    "encoding": {"x": {"datum": -64.5, "type": "quantitative"}, "y": {"datum": 31.86, "type": "quantitative"}, "text": {"field": "t"}}}
  ]},
 {"width": 308, "height": 228,
  "layer": [
   {"data": {"name": "B"}, "mark": {"type": "line", "color": "black", "strokeWidth": 1, "clip": true},
    "encoding": {
     "x": {"field": "lat", "type": "quantitative", "scale": {"domain": [-50, 50], "nice": false}, "axis": {"title": "Latitude", "values": [-50, 0, 50]}},
     "y": {"field": "v", "type": "quantitative", "scale": {"domain": [5, 30], "nice": false}, "axis": {"title": ["Zonal mean surface temperature", "(ºC)"], "values": [5, 10, 15, 20, 25, 30]}}}},
   {"data": {"values": [{"t": "Continents"}]}, "mark": {"type": "text", "align": "center"},
    "encoding": {"x": {"datum": 34.7, "type": "quantitative"}, "y": {"datum": 27.6, "type": "quantitative"}, "text": {"field": "t"}}},
   {"data": {"values": [{"t": "B"}]}, "mark": {"type": "text", "fontSize": 20, "align": "center"},
    "encoding": {"x": {"datum": -62.4, "type": "quantitative"}, "y": {"datum": 31.86, "type": "quantitative"}, "text": {"field": "t"}}}
  ]},
 {"width": 308, "height": 228,
  "layer": [
   {"data": {"name": "Cg"}, "mark": {"type": "line", "color": "#c4c4c4", "strokeWidth": 1, "clip": true},
    "encoding": {
     "x": {"field": "lat", "type": "quantitative", "scale": {"domain": [-50, 50], "nice": false}, "axis": {"title": "Latitude", "values": [-50, 0, 50]}},
     "y": {"field": "v", "type": "quantitative", "scale": {"domain": [-2, 2], "nice": false}, "axis": {"title": ["Meridional temperature gradient", "(ºC per degree latitude)"], "values": [-2, -1.5, -1, -0.5, 0, 0.5, 1, 1.5, 2], "format": ".0f", "labelExpr": "datum.value % 1 === 0 ? datum.label : ''"}}}},
   {"data": {"values": [{"t": "zero"}]}, "mark": {"type": "rule", "color": "#333333", "strokeWidth": 1},
    "encoding": {"y": {"datum": 0, "type": "quantitative"}}},
   {"data": {"name": "C"}, "mark": {"type": "line", "color": "black", "strokeWidth": 1, "clip": true},
    "encoding": {"x": {"field": "lat", "type": "quantitative"}, "y": {"field": "v", "type": "quantitative"}}},
   {"data": {"values": [{"t": "Oceans"}]}, "mark": {"type": "text", "align": "center"},
    "encoding": {"x": {"datum": 37.5, "type": "quantitative"}, "y": {"datum": 1.6, "type": "quantitative"}, "text": {"field": "t"}}},
   {"data": {"values": [{"t": "C"}]}, "mark": {"type": "text", "fontSize": 20, "align": "center"},
    "encoding": {"x": {"datum": -64.8, "type": "quantitative"}, "y": {"datum": 2.3, "type": "quantitative"}, "text": {"field": "t"}}}
  ]},
 {"width": 308, "height": 228,
  "layer": [
   {"data": {"name": "Dg"}, "mark": {"type": "line", "color": "#c4c4c4", "strokeWidth": 1, "clip": true},
    "encoding": {
     "x": {"field": "lat", "type": "quantitative", "scale": {"domain": [-50, 50], "nice": false}, "axis": {"title": "Latitude", "values": [-50, 0, 50]}},
     "y": {"field": "v", "type": "quantitative", "scale": {"domain": [-2, 2], "nice": false}, "axis": {"title": ["Meridional temperature gradient", "(ºC per degree latitude)"], "values": [-2, -1.5, -1, -0.5, 0, 0.5, 1, 1.5, 2], "format": ".0f", "labelExpr": "datum.value % 1 === 0 ? datum.label : ''"}}}},
   {"data": {"values": [{"t": "zero"}]}, "mark": {"type": "rule", "color": "#333333", "strokeWidth": 1},
    "encoding": {"y": {"datum": 0, "type": "quantitative"}}},
   {"data": {"name": "D"}, "mark": {"type": "line", "color": "black", "strokeWidth": 1, "clip": true},
    "encoding": {"x": {"field": "lat", "type": "quantitative"}, "y": {"field": "v", "type": "quantitative"}}},
   {"data": {"values": [{"t": "Continents"}]}, "mark": {"type": "text", "align": "center"},
    "encoding": {"x": {"datum": 34.7, "type": "quantitative"}, "y": {"datum": 1.58, "type": "quantitative"}, "text": {"field": "t"}}},
   {"data": {"values": [{"t": "D"}]}, "mark": {"type": "text", "fontSize": 20, "align": "center"},
    "encoding": {"x": {"datum": -62.4, "type": "quantitative"}, "y": {"datum": 2.3, "type": "quantitative"}, "text": {"field": "t"}}}
  ]},
 {"width": 308, "height": 228,
  "layer": [
   {"data": {"name": "E"}, "mark": {"type": "line", "color": "black", "strokeWidth": 1, "clip": true},
    "encoding": {
     "x": {"field": "lat", "type": "quantitative", "scale": {"domain": [-50, 50], "nice": false}, "axis": {"title": "Latitude", "values": [-50, 0, 50]}},
     "y": {"field": "v", "type": "quantitative", "scale": {"domain": [0, 3.5], "nice": false}, "axis": {"title": ["Zonal mean temperature change", "(ºC)"], "values": [0, 0.5, 1, 1.5, 2, 2.5, 3, 3.5], "format": ".0f", "labelExpr": "datum.value % 1 === 0 ? datum.label : ''"}}}},
   {"data": {"values": [{"t": "Oceans"}]}, "mark": {"type": "text", "align": "center"},
    "encoding": {"x": {"datum": 37.5, "type": "quantitative"}, "y": {"datum": 3.22, "type": "quantitative"}, "text": {"field": "t"}}},
   {"data": {"values": [{"t": "E"}]}, "mark": {"type": "text", "fontSize": 20, "align": "center"},
    "encoding": {"x": {"datum": -64.5, "type": "quantitative"}, "y": {"datum": 3.76, "type": "quantitative"}, "text": {"field": "t"}}}
  ]},
 {"width": 308, "height": 228,
  "layer": [
   {"data": {"name": "F"}, "mark": {"type": "line", "color": "black", "strokeWidth": 1, "clip": true},
    "encoding": {
     "x": {"field": "lat", "type": "quantitative", "scale": {"domain": [-50, 50], "nice": false}, "axis": {"title": "Latitude", "values": [-50, 0, 50]}},
     "y": {"field": "v", "type": "quantitative", "scale": {"domain": [0, 3.5], "nice": false}, "axis": {"title": ["Zonal mean temperature change", "(ºC)"], "values": [0, 0.5, 1, 1.5, 2, 2.5, 3, 3.5], "format": ".0f", "labelExpr": "datum.value % 1 === 0 ? datum.label : ''"}}}},
   {"data": {"values": [{"t": "Continents"}]}, "mark": {"type": "text", "align": "center"},
    "encoding": {"x": {"datum": 34.7, "type": "quantitative"}, "y": {"datum": 3.19, "type": "quantitative"}, "text": {"field": "t"}}},
   {"data": {"values": [{"t": "F"}]}, "mark": {"type": "text", "fontSize": 20, "align": "center"},
    "encoding": {"x": {"datum": -62.0, "type": "quantitative"}, "y": {"datum": 3.76, "type": "quantitative"}, "text": {"field": "t"}}}
  ]}
]
}
